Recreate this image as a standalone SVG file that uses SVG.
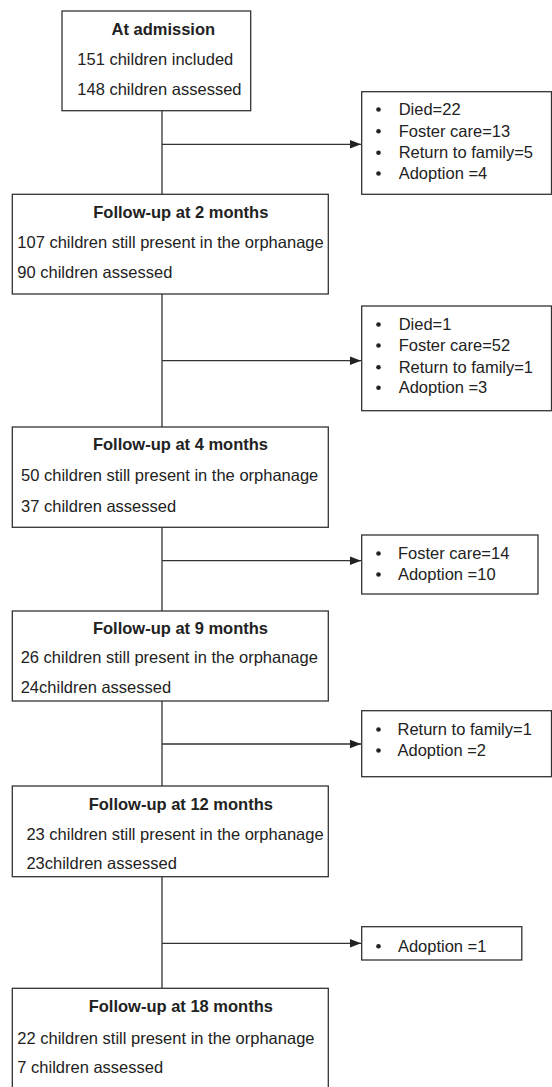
<svg xmlns="http://www.w3.org/2000/svg" width="552" height="1087" viewBox="0 0 552 1087">
<style>
.box{fill:#fff;stroke:#333;stroke-width:1.3}
.t{font-family:"Liberation Sans",Arial,sans-serif;font-size:16.5px;fill:#222}
.b{font-weight:bold;text-anchor:middle}
.ln{stroke:#333;stroke-width:1.3;fill:none}
.dot{fill:#222}
</style>
<defs>
<marker id="arr" markerWidth="12" markerHeight="10" refX="11" refY="5" orient="auto" markerUnits="userSpaceOnUse">
<path d="M0,0.8 L11,5 L0,9.2 Z" fill="#222"/>
</marker>
</defs>
<rect width="552" height="1087" fill="#fff"/>
<g id="connectors">
<line class="ln" x1="162" y1="110.7" x2="162" y2="194.3"/>
<line class="ln" x1="162" y1="144.3" x2="361" y2="144.3" marker-end="url(#arr)"/>
<line class="ln" x1="162" y1="294" x2="162" y2="427"/>
<line class="ln" x1="162" y1="360.7" x2="361" y2="360.7" marker-end="url(#arr)"/>
<line class="ln" x1="162" y1="527.3" x2="162" y2="611"/>
<line class="ln" x1="162" y1="560.7" x2="361" y2="560.7" marker-end="url(#arr)"/>
<line class="ln" x1="162" y1="701" x2="162" y2="786"/>
<line class="ln" x1="162" y1="744" x2="361" y2="744" marker-end="url(#arr)"/>
<line class="ln" x1="162" y1="876.7" x2="162" y2="988.3"/>
<line class="ln" x1="162" y1="943.3" x2="361" y2="943.3" marker-end="url(#arr)"/>
</g>
<g id="admission">
<rect class="box" x="62" y="11" width="188.7" height="99.7"/>
<text class="t b" x="163.3" y="35">At admission</text>
<text class="t" x="77.3" y="65">151 children included</text>
<text class="t" x="77.3" y="95">148 children assessed</text>
</g>
<g id="exit1">
<rect class="box" x="361.7" y="91.7" width="189.8" height="102.6"/>
<circle class="dot" cx="378.5" cy="109.5" r="2.3"/>
<circle class="dot" cx="378.5" cy="131.2" r="2.3"/>
<circle class="dot" cx="378.5" cy="152.8" r="2.3"/>
<circle class="dot" cx="378.5" cy="173.5" r="2.3"/>
<text class="t" x="398.7" y="115">Died=22</text>
<text class="t" x="398.7" y="136.7">Foster care=13</text>
<text class="t" x="398.7" y="158.3">Return to family=5</text>
<text class="t" x="398.7" y="179">Adoption =4</text>
</g>
<g id="fu2">
<rect class="box" x="12.3" y="194.3" width="316" height="99.7"/>
<text class="t b" x="180.8" y="218.3">Follow-up at 2 months</text>
<text class="t" x="17.3" y="248.3">107 children still present in the orphanage</text>
<text class="t" x="17.3" y="278.3">90 children assessed</text>
</g>
<g id="exit2">
<rect class="box" x="361.7" y="306" width="189.8" height="104.7"/>
<circle class="dot" cx="378.5" cy="324.5" r="2.3"/>
<circle class="dot" cx="378.5" cy="345.5" r="2.3"/>
<circle class="dot" cx="378.5" cy="367.2" r="2.3"/>
<circle class="dot" cx="378.5" cy="387.8" r="2.3"/>
<text class="t" x="398.7" y="330">Died=1</text>
<text class="t" x="398.7" y="351">Foster care=52</text>
<text class="t" x="398.7" y="372.7">Return to family=1</text>
<text class="t" x="398.7" y="393.3">Adoption =3</text>
</g>
<g id="fu4">
<rect class="box" x="12.3" y="427" width="316" height="100.3"/>
<text class="t b" x="180.5" y="450">Follow-up at 4 months</text>
<text class="t" x="21.1" y="480.7">50 children still present in the orphanage</text>
<text class="t" x="21.1" y="511.7">37 children assessed</text>
</g>
<g id="exit3">
<rect class="box" x="361.7" y="535" width="176.3" height="59"/>
<circle class="dot" cx="378.5" cy="553.5" r="2.3"/>
<circle class="dot" cx="378.5" cy="574.5" r="2.3"/>
<text class="t" x="397.9" y="559">Foster care=14</text>
<text class="t" x="397.9" y="580">Adoption =10</text>
</g>
<g id="fu9">
<rect class="box" x="12.3" y="611" width="316" height="90"/>
<text class="t b" x="180.5" y="634.3">Follow-up at 9 months</text>
<text class="t" x="20.7" y="663.3">26 children still present in the orphanage</text>
<text class="t" x="20.7" y="693">24children assessed</text>
</g>
<g id="exit4">
<rect class="box" x="361.7" y="710.7" width="189.8" height="66"/>
<circle class="dot" cx="378.5" cy="729.5" r="2.3"/>
<circle class="dot" cx="378.5" cy="750.5" r="2.3"/>
<text class="t" x="397.5" y="735">Return to family=1</text>
<text class="t" x="397.5" y="756">Adoption =2</text>
</g>
<g id="fu12">
<rect class="box" x="12.3" y="786" width="316" height="90.7"/>
<text class="t b" x="180.8" y="810">Follow-up at 12 months</text>
<text class="t" x="26.4" y="840">23 children still present in the orphanage</text>
<text class="t" x="26.4" y="869">23children assessed</text>
</g>
<g id="exit5">
<rect class="box" x="361.7" y="926.7" width="160.1" height="33.3"/>
<circle class="dot" cx="378.5" cy="946.2" r="2.3"/>
<text class="t" x="397.9" y="951.7">Adoption =1</text>
</g>
<g id="fu18">
<rect class="box" x="12.3" y="988.3" width="316" height="110"/>
<text class="t b" x="180.8" y="1011.7">Follow-up at 18 months</text>
<text class="t" x="17.3" y="1044">22 children still present in the orphanage</text>
<text class="t" x="17.3" y="1073">7 children assessed</text>
</g>
</svg>
